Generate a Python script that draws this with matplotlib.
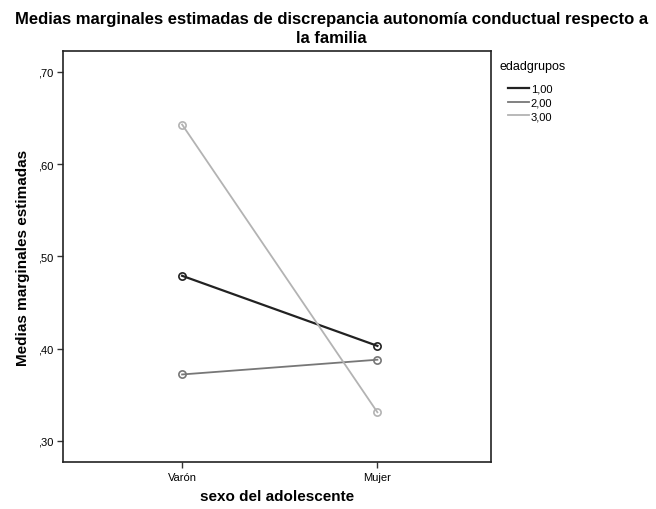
import matplotlib
matplotlib.use("Agg")
import matplotlib.pyplot as plt
from matplotlib.ticker import FuncFormatter
from matplotlib.lines import Line2D

plt.rcParams['font.family'] = ['Liberation Sans', 'DejaVu Sans']

categories = ["Varón", "Mujer"]
groups = ["1,00", "2,00", "3,00"]
values = {
    "1,00": [0.479, 0.403],
    "2,00": [0.372, 0.388],
    "3,00": [0.643, 0.331],
}
colors = {"1,00": "#222222", "2,00": "#777777", "3,00": "#b3b3b3"}
yticks = [0.30, 0.40, 0.50, 0.60, 0.70]

W, H = 656, 510
fig = plt.figure(figsize=(6.56, 5.10), dpi=100)
ax = fig.add_axes([0.096, 0.092, 0.652, 0.806])

x = list(range(len(categories)))
handles = []
for g in groups:
    lw = 1.6 if g == "1,00" else 1.3
    ax.plot(x, values[g], color=colors[g], lw=lw,
            marker='o', markersize=5.2, markerfacecolor='none',
            markeredgecolor=colors[g], markeredgewidth=1.2)
    handles.append(Line2D([], [], color=colors[g], lw=lw))

ax.set_xlim(-0.61, 1.58)
ax.set_ylim(0.277, 0.7227)
ax.set_xticks(x)
ax.set_xticklabels(categories, fontsize=8)
ax.set_yticks(yticks)
ax.yaxis.set_major_formatter(FuncFormatter(lambda v, p: ("%.2f" % v).replace("0.", ",")))
ax.tick_params(axis='both', labelsize=8, length=4, width=1, direction='out', color='#333333', pad=3)
for s in ax.spines.values():
    s.set_linewidth(1.2)
    s.set_color('#222222')

ax.set_ylabel("Medias marginales estimadas", fontsize=11, fontweight='bold', labelpad=6)
ax.set_xlabel("sexo del adolescente", fontsize=11, fontweight='bold', labelpad=5)

fig.text(0.505, 1 - 29 / H,
         "Medias marginales estimadas de discrepancia autonomía conductual respecto a\nla familia",
         ha='center', va='center', fontsize=12, fontweight='bold', linespacing=1.4)

fig.text(500 / W, 1 - 67 / H, "edadgrupos", ha='left', va='center', fontsize=9)
leg = fig.legend(handles, groups, loc='upper left', bbox_to_anchor=(508 / W, 1 - 85 / H),
                 frameon=False, fontsize=8, handlelength=1.9,
                 handletextpad=0.15, labelspacing=0.32, borderaxespad=0.0, borderpad=0.0)

fig.savefig("out.png", dpi=100)
